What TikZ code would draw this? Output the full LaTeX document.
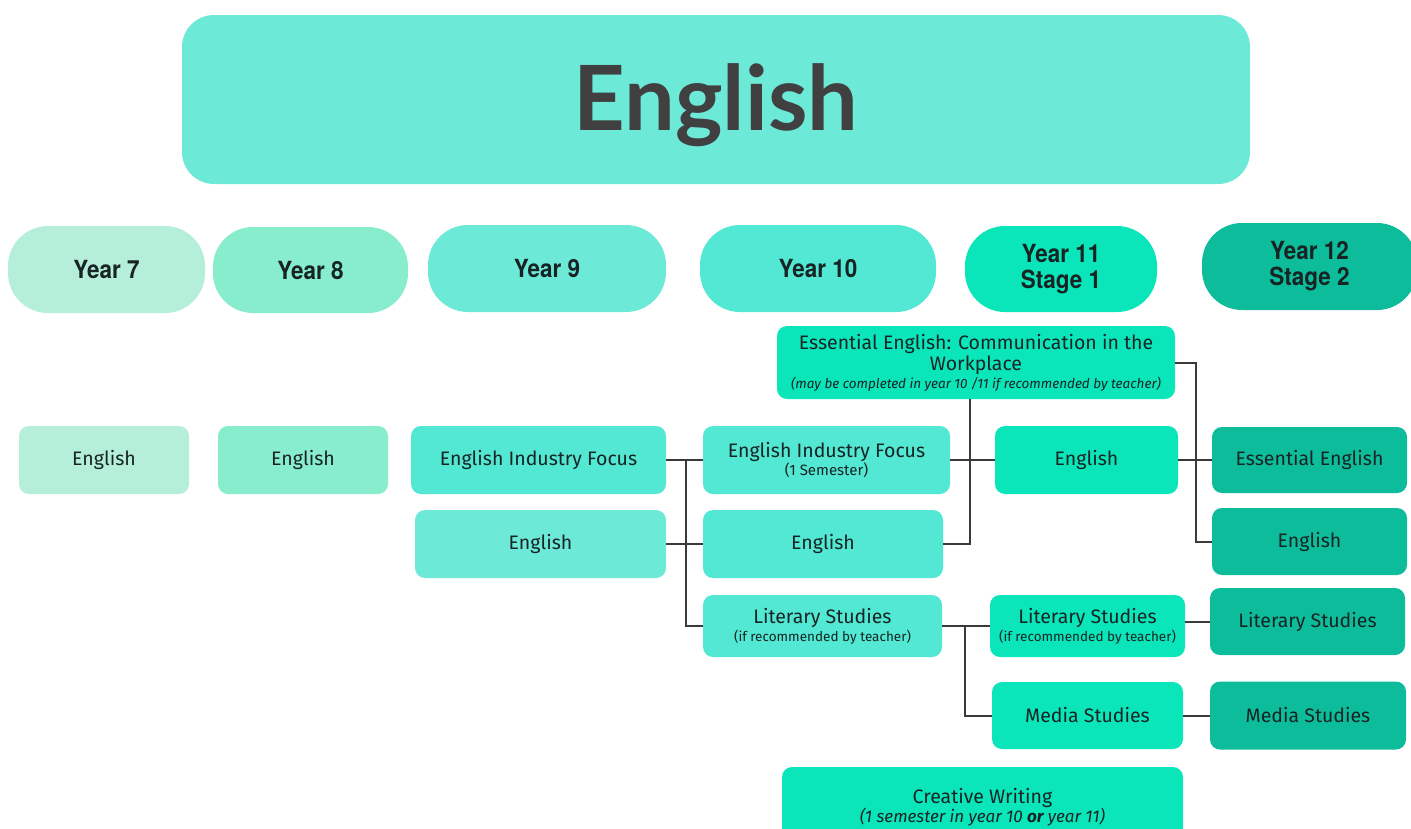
\documentclass[tikz,border=0pt]{standalone}
\usepackage{fontspec}
\setmainfont{Fira Sans}
\newfontfamily\titlefont{Lato}
\newfontfamily\yearfont[FakeStretch=0.9]{TeX Gyre Heros}
\newcommand\notesize{\fontsize{13.5}{15}\selectfont}
\usetikzlibrary{calc}
\definecolor{cA}{HTML}{B5EFD9}
\definecolor{cB}{HTML}{88EDCD}
\definecolor{cC}{HTML}{6DE9D8}
\definecolor{cD}{HTML}{52E8D3}
\definecolor{cE}{HTML}{0BE5BA}
\definecolor{cF}{HTML}{0DBC9A}
\definecolor{ink}{HTML}{172424}
\definecolor{wire}{HTML}{3A3A3A}
\begin{document}
\begin{tikzpicture}[x=1pt,y=-1pt,
  yearbox/.style={rectangle,rounded corners=40pt,inner sep=0pt,align=center,
    text=ink,font=\yearfont\bfseries\fontsize{25}{26}\selectfont},
  course/.style={rectangle,rounded corners=10pt,inner sep=0pt,align=center,
    text=ink,font=\fontsize{19.5}{22}\selectfont},
  link/.style={draw=wire,line width=2pt}]
\useasboundingbox (0,0) rectangle (1411,828);
\clip (0,0) rectangle (1411,828);

% title banner
\node[rectangle,rounded corners=32pt,fill=cC,minimum width=1068pt,minimum height=169pt]
  (title) at (716,99.5) {};
\node[text=black!75,font=\titlefont\bfseries\fontsize{90}{96}\selectfont]
  (titletext) at ([yshift=-6pt]title.center) {English};

% year headers
\node[yearbox,fill=cA,minimum width=197pt,minimum height=87pt] (h7)  at (106.5,269.5) {Year 7};
\node[yearbox,fill=cB,minimum width=195pt,minimum height=86pt] (h8)  at (310.5,270) {Year 8};
\node[yearbox,fill=cC,minimum width=238pt,minimum height=87pt] (h9)  at (547,268.5) {Year 9};
\node[yearbox,fill=cD,minimum width=236pt,minimum height=87pt] (h10) at (818,268.5) {Year 10};
\node[yearbox,fill=cE,minimum width=192pt,minimum height=86pt] (h11) at (1061,269) {Year 11\\Stage 1};
\node[yearbox,fill=cF,minimum width=215pt,minimum height=87pt] (h12) at (1309.5,266.5) {Year 12\\Stage 2};

% year 7 and 8
\node[course,fill=cA,minimum width=170pt,minimum height=68pt] (e7) at (104,460) {English};
\node[course,fill=cB,minimum width=170pt,minimum height=68pt] (e8) at (303,460) {English};

% year 9
\node[course,fill=cD,minimum width=255pt,minimum height=68pt] (f9) at (538.5,460) {English Industry Focus};
\node[course,fill=cC,minimum width=251pt,minimum height=68pt] (e9) at (540.5,544) {English};

% year 10
\node[course,fill=cD,minimum width=247pt,minimum height=68pt] (f10) at (826.5,460)
  {English Industry Focus\\[-4pt]{\fontsize{15}{16}\selectfont (1 Semester)}};
\node[course,fill=cD,minimum width=240pt,minimum height=68pt] (e10) at (823,544) {English};
\node[course,fill=cD,minimum width=239pt,minimum height=62pt] (l10) at (822.5,626)
  {Literary Studies\\[-4pt]{\notesize (if recommended by teacher)}};

% year 10 / 11 options
\node[course,fill=cE,minimum width=398pt,minimum height=73pt] (ess) at (976,362.5)
  {Essential English: Communication in the\\[-1pt]Workplace\\[-4pt]{\notesize\itshape (may be completed in year 10 /11 if recommended by teacher)}};
\node[course,fill=cE,minimum width=401pt,minimum height=80pt] (cw) at (982.5,807)
  {Creative Writing\\[-3pt]{\fontsize{17}{19}\selectfont\itshape (1 semester in year 10 \textbf{or} year 11)}};

% year 11
\node[course,fill=cE,minimum width=183pt,minimum height=68pt] (e11) at (1086.5,460) {English};
\node[course,fill=cE,minimum width=195pt,minimum height=62pt] (l11) at (1087.5,626)
  {Literary Studies\\[-4pt]{\notesize (if recommended by teacher)}};
\node[course,fill=cE,minimum width=191pt,minimum height=67pt] (m11) at (1087.5,715.5) {Media Studies};

% year 12
\node[course,fill=cF,minimum width=195pt,minimum height=66pt] (ee12) at (1309.5,460) {Essential English};
\node[course,fill=cF,minimum width=195pt,minimum height=67pt] (e12)  at (1309.5,541.5) {English};
\node[course,fill=cF,minimum width=195pt,minimum height=67pt] (l12)  at (1307.5,621.5) {Literary Studies};
\node[course,fill=cF,minimum width=196pt,minimum height=68pt] (m12)  at (1308,715.5) {Media Studies};

% pathways
\coordinate (j9) at (686,460);
\draw[link] (f9.east) -- (f10.west);
\draw[link] (e9.east) -- (e10.west);
\draw[link] (j9) |- (l10.west);

\draw[link] (f10.east) -- (e11.west);
\draw[link] ([xshift=-6pt]ess.south) |- (e10.east);

\draw[link] (e11.east) -- (ee12.west);
\draw[link] (ess.east) -- ++(21,0) |- (e12.west);

\draw[link] (l10.east) -- (l11.west);
\draw[link] ([xshift=23pt]l10.east) |- (m11.west);
\draw[link] (l11.east |- l12.west) -- (l12.west);
\draw[link] (m11.east) -- (m12.west);
\end{tikzpicture}
\end{document}
